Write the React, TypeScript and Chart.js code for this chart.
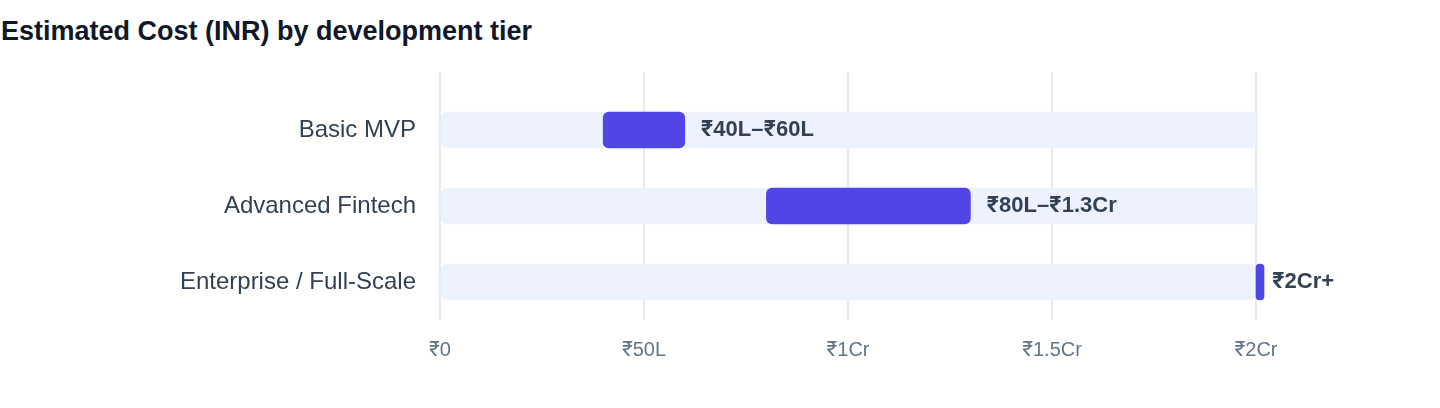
import React, { useEffect, useRef } from 'react';
import { Chart, registerables } from 'chart.js';

Chart.register(...registerables);

// Data (values in lakh INR; 1Cr = 100L)
const categories = ['Basic MVP', 'Advanced Fintech', 'Enterprise / Full-Scale'];
const rangeLow = [40, 80, 200];
const rangeHigh = [60, 130, 200];
const rangeLabels = ['₹40L–₹60L', '₹80L–₹1.3Cr', '₹2Cr+'];
const trackMax = 200;
const tickValues = [0, 50, 100, 150, 200];
const tickLabels = ['₹0', '₹50L', '₹1Cr', '₹1.5Cr', '₹2Cr'];

const FONT = '"Liberation Sans", Inter, "Noto Sans", sans-serif';
const GRID = '#e5e9f0';

const rangeLabelPlugin = {
  id: 'rangeLabels',
  afterDatasetsDraw(chart: any) {
    const { ctx } = chart;
    const meta = chart.getDatasetMeta(0);
    const xScale = chart.scales.x;
    ctx.save();
    ctx.font = `700 22px ${FONT}`;
    ctx.fillStyle = '#334155';
    ctx.textAlign = 'left';
    ctx.textBaseline = 'middle';
    meta.data.forEach((bar: any, i: number) => {
      const x = xScale.getPixelForValue(rangeHigh[i]) + 16;
      ctx.fillText(rangeLabels[i], x, bar.y);
    });
    ctx.restore();
  },
};

const setTicks = (scale: any) => {
  scale.ticks = tickValues.map((v) => ({ value: v }));
};

const CostChart: React.FC = () => {
  const canvasRef = useRef<HTMLCanvasElement | null>(null);
  const chartRef = useRef<Chart | null>(null);

  useEffect(() => {
    if (!canvasRef.current) return;
    if (chartRef.current) chartRef.current.destroy();

    chartRef.current = new Chart(canvasRef.current, {
      type: 'bar',
      data: {
        labels: categories,
        datasets: [
          {
            label: 'Cost range',
            data: categories.map((_, i) => [rangeLow[i], rangeHigh[i]]) as any,
            backgroundColor: '#4f46e5',
            borderRadius: 6,
            borderSkipped: false,
            barThickness: 36,
            minBarLength: 8,
            grouped: false,
            clip: false as any,
            order: 0,
          },
          {
            label: 'Track',
            data: categories.map(() => [0, trackMax]) as any,
            backgroundColor: '#eef2ff',
            borderRadius: 6,
            borderSkipped: false,
            barThickness: 36,
            grouped: false,
            order: 1,
          },
        ],
      },
      options: {
        indexAxis: 'y',
        animation: false,
        responsive: true,
        maintainAspectRatio: false,
        layout: { padding: { top: 72, right: 184, bottom: 0, left: 0 } },
        plugins: {
          legend: { display: false },
          tooltip: { enabled: false },
          title: { display: false },
        },
        scales: {
          x: {
            type: 'linear',
            position: 'bottom',
            min: 0,
            max: trackMax,
            afterBuildTicks: setTicks,
            afterFit: (scale: any) => {
              scale.height = 88;
            },
            grid: { color: GRID, lineWidth: 2, drawTicks: false },
            border: { display: false },
            ticks: {
              padding: 18,
              color: '#64748b',
              font: { family: FONT, size: 20 },
              callback: (v: any) => tickLabels[tickValues.indexOf(Number(v))] ?? '',
            },
          },
          xTop: {
            type: 'linear',
            position: 'top',
            min: 0,
            max: trackMax,
            afterBuildTicks: setTicks,
            grid: { color: GRID, lineWidth: 2, drawOnChartArea: false, drawTicks: true, tickLength: 20 },
            border: { display: false },
            ticks: { display: false },
          },
          y: {
            type: 'category',
            afterFit: (scale: any) => {
              scale.width = 440;
            },
            grid: { display: false, drawTicks: false },
            border: { display: false },
            ticks: {
              padding: 24,
              color: '#334155',
              font: { family: FONT, size: 24 },
            },
          },
        },
      },
      plugins: [rangeLabelPlugin],
    });

    return () => {
      if (chartRef.current) {
        chartRef.current.destroy();
        chartRef.current = null;
      }
    };
  }, []);

  return (
    <div style={{ position: 'absolute', left: 0, top: 0, width: 1440, height: 408, background: '#fff' }}>
      <div
        style={{
          position: 'absolute',
          left: 1,
          top: 15,
          fontFamily: FONT,
          fontWeight: 700,
          fontSize: 27,
          lineHeight: '32px',
          color: '#0f172a',
          whiteSpace: 'nowrap',
        }}
      >
        Estimated Cost (INR) by development tier
      </div>
      <div style={{ position: 'absolute', left: 0, top: 0, width: 1440, height: 408 }}>
        <canvas ref={canvasRef}></canvas>
      </div>
    </div>
  );
};

export default function App() {
  return <CostChart />;
}
